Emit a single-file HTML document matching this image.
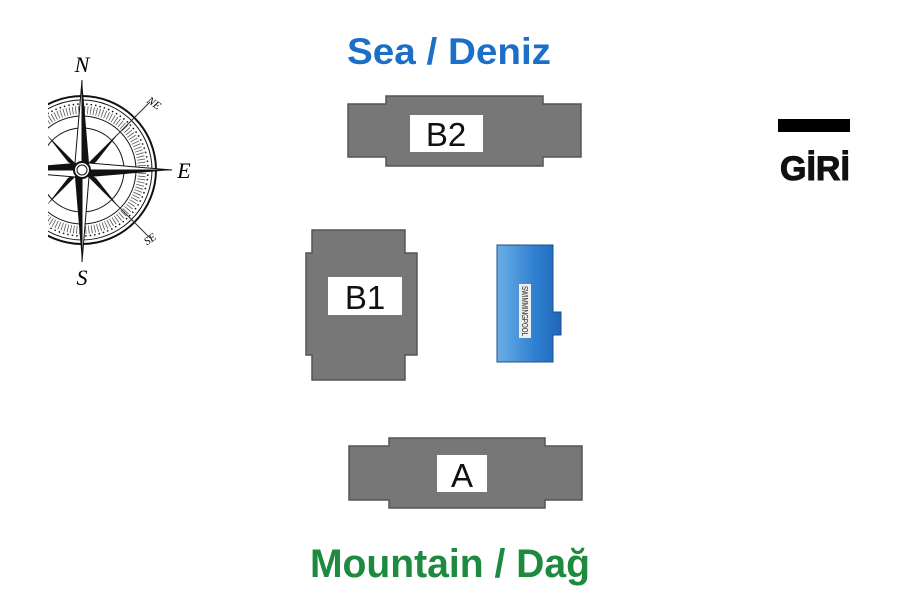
<!DOCTYPE html>
<html><head><meta charset="utf-8"><style>
html,body{margin:0;padding:0;background:#fff;width:900px;height:600px;overflow:hidden}
</style></head><body>
<svg width="900" height="600" viewBox="0 0 900 600" xmlns="http://www.w3.org/2000/svg" font-family="Liberation Sans, sans-serif">
<rect width="900" height="600" fill="#fff"/>
<defs><clipPath id="cc"><rect x="48" y="0" width="200" height="600"/></clipPath>
<linearGradient id="pg" x1="0" x2="1" y1="0" y2="0"><stop offset="0" stop-color="#6aaee6"/><stop offset="0.6" stop-color="#2f7fd0"/><stop offset="1" stop-color="#1f66b8"/></linearGradient></defs>
<g clip-path="url(#cc)">
<circle cx="82" cy="170" r="74" fill="none" stroke="#111" stroke-width="2"/>
<circle cx="82" cy="170" r="70" fill="none" stroke="#111" stroke-width="1"/>
<circle cx="82" cy="170" r="66" fill="none" stroke="#111" stroke-width="1.5" stroke-dasharray="1.5 3"/>
<circle cx="82" cy="170" r="60" fill="none" stroke="#555" stroke-width="8" stroke-dasharray="0.8 2.2"/>
<circle cx="82" cy="170" r="54" fill="none" stroke="#111" stroke-width="1"/>
<circle cx="82" cy="170" r="42" fill="none" stroke="#111" stroke-width="1"/>
<line x1="82" y1="170" x2="150" y2="102" stroke="#333" stroke-width="1"/>
<line x1="82" y1="170" x2="150" y2="238" stroke="#333" stroke-width="1"/>
<polygon points="82,170 118,134 96,162" fill="#111"/>
<polygon points="82,170 118,206 96,178" fill="#111"/>
<polygon points="82,170 46,134 68,162" fill="#111"/>
<polygon points="82,170 46,206 68,178" fill="#111"/>
<polygon points="82,80 89,163 82,170" fill="#111"/><polygon points="82,80 75,163 82,170" fill="#fff" stroke="#111"/>
<polygon points="82,262 75,177 82,170" fill="#111"/><polygon points="82,262 89,177 82,170" fill="#fff" stroke="#111"/>
<polygon points="172,170 89,177 82,170" fill="#111"/><polygon points="172,170 89,163 82,170" fill="#fff" stroke="#111"/>
<polygon points="-8,170 75,163 82,170" fill="#111"/><polygon points="-8,170 75,177 82,170" fill="#fff" stroke="#111"/>
<circle cx="82" cy="170" r="8" fill="#fff" stroke="#111" stroke-width="2"/>
<circle cx="82" cy="170" r="5" fill="none" stroke="#111" stroke-width="1"/>
</g>
<text x="82" y="72" font-family="Liberation Serif, serif" font-style="italic" font-size="22" text-anchor="middle">N</text>
<text x="82" y="285" font-family="Liberation Serif, serif" font-style="italic" font-size="22" text-anchor="middle">S</text>
<text x="184" y="178" font-family="Liberation Serif, serif" font-style="italic" font-size="22" text-anchor="middle">E</text>
<text x="152" y="106" font-family="Liberation Serif, serif" font-style="italic" font-size="11" text-anchor="middle" transform="rotate(35 152 106)">NE</text>
<text x="152" y="242" font-family="Liberation Serif, serif" font-style="italic" font-size="11" text-anchor="middle" transform="rotate(-35 152 242)">SE</text>
<text x="347" y="64" font-size="37" font-weight="bold" fill="#1b6fc6" textLength="204" lengthAdjust="spacingAndGlyphs">Sea / Deniz</text>
<text x="310" y="577" font-size="40" font-weight="bold" fill="#1d8a3f" textLength="280" lengthAdjust="spacingAndGlyphs">Mountain / Dağ</text>
<g fill="#777" stroke="#555" stroke-width="1.5">
<polygon points="386,96 543,96 543,104 581,104 581,157 543,157 543,166 386,166 386,157 348,157 348,104 386,104"/>
<polygon points="389,438 545,438 545,446 582,446 582,500 545,500 545,508 389,508 389,500 349,500 349,446 389,446"/>
<polygon points="312,230 405,230 405,253 417,253 417,355 405,355 405,380 312,380 312,355 306,355 306,253 312,253"/>
</g>
<rect x="410" y="115" width="73" height="37" fill="#fff"/>
<text x="446" y="146" font-size="33" text-anchor="middle" fill="#111">B2</text>
<rect x="437" y="455" width="50" height="37" fill="#fff"/>
<text x="462" y="487" font-size="33" text-anchor="middle" fill="#111">A</text>
<rect x="328" y="277" width="74" height="38" fill="#fff"/>
<text x="365" y="309" font-size="33" text-anchor="middle" fill="#111">B1</text>
<polygon points="497,245 553,245 553,312 561,312 561,335 553,335 553,362 497,362" fill="url(#pg)" stroke="#1d4f8a" stroke-width="1"/>
<rect x="519" y="284" width="12" height="54" fill="#eee"/>
<text x="525" y="311" font-size="8" text-anchor="middle" fill="#222" transform="rotate(90 525 311)" dy="3" textLength="50" lengthAdjust="spacingAndGlyphs">SWIMMINGPOOL</text>
<rect x="778" y="119" width="72" height="13" fill="#000"/>
<svg x="770" y="140" width="80" height="60"><text x="10" y="40" font-size="34" font-weight="bold" fill="#111" stroke="#111" stroke-width="1">GİRİŞ</text></svg>
</svg>
</body></html>
